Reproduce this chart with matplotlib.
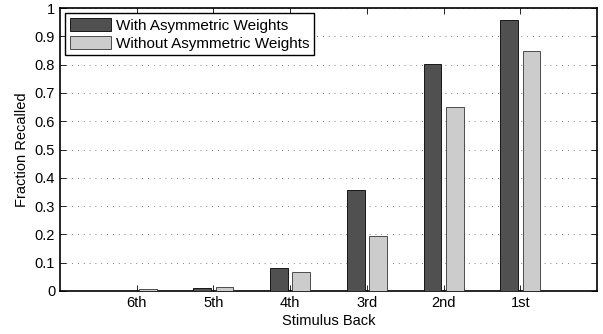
import numpy as np
import matplotlib
matplotlib.use("Agg")
import matplotlib.pyplot as plt

plt.rcParams['font.family'] = ['Liberation Sans', 'DejaVu Sans']

labels = ['6th', '5th', '4th', '3rd', '2nd', '1st']
with_asym = [0.0, 0.012, 0.08, 0.357, 0.801, 0.958]
without_asym = [0.007, 0.015, 0.067, 0.195, 0.651, 0.847]

x = np.arange(1, len(labels) + 1)
w = 0.23
fs = 10.5

fig = plt.figure(figsize=(6.03, 3.34), dpi=100)
ax = fig.add_axes([60/603, 1 - 291/334, 537/603, 283/334])

ax.bar(x - 0.145, with_asym, w, color='#505050', edgecolor='black', linewidth=0.6,
       label='With Asymmetric Weights', zorder=3)
ax.bar(x + 0.145, without_asym, w, color='#cccccc', edgecolor='#333333', linewidth=0.6,
       label='Without Asymmetric Weights', zorder=3)

ax.set_xlim(0, 7)
ax.set_ylim(0, 1)
ax.set_xticks(x)
ax.set_xticklabels(labels)
ax.set_yticks(np.arange(0, 1.01, 0.1))
ax.set_yticklabels(['0', '0.1', '0.2', '0.3', '0.4', '0.5', '0.6', '0.7', '0.8', '0.9', '1'])
ax.yaxis.grid(True, linestyle=(0, (1, 6)), color='#555555', linewidth=0.6)
ax.tick_params(direction='in', top=True, right=True, labelsize=fs, length=4, width=0.6)
for s in ax.spines.values():
    s.set_linewidth(1.2)

ax.set_xlabel('Stimulus Back', fontsize=fs, labelpad=3)
ax.set_ylabel('Fraction Recalled', fontsize=fs)

leg = ax.legend(loc='upper left', fontsize=11, fancybox=False, framealpha=1,
                edgecolor='black', borderaxespad=0.35, handlelength=2.7,
                handleheight=0.95, borderpad=0.3, labelspacing=0.2, handletextpad=0.3)
leg.get_frame().set_linewidth(1.0)

fig.savefig('out.png', dpi=100)
